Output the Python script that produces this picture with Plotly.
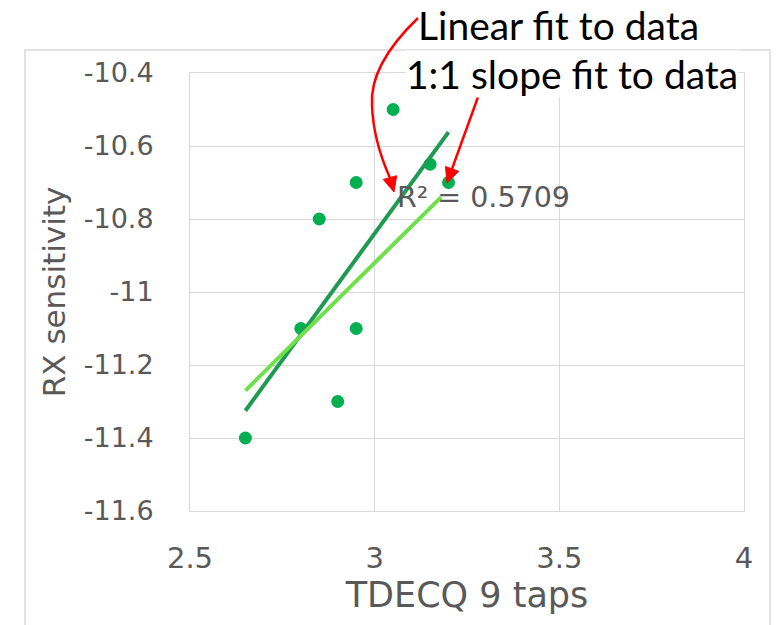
import numpy as np
import plotly.graph_objects as go

# ---- data ----
tdecq = [2.65, 2.80, 2.85, 2.90, 2.95, 2.95, 3.05, 3.15, 3.20]
rx_sens = [-11.40, -11.10, -10.80, -11.30, -10.70, -11.10, -10.50, -10.65, -10.70]
one_to_one_intercept = -13.92          # intercept of the 1:1 slope fit
one_to_one_x = [2.65, 3.18]            # extent of the 1:1 line
x_ticks = [2.5, 3, 3.5, 4]
x_tick_labels = ["2.5", "3", "3.5", "4"]
y_ticks = [-10.4, -10.6, -10.8, -11, -11.2, -11.4, -11.6]
y_tick_labels = ["-10.4", "-10.6", "-10.8", "-11", "-11.2", "-11.4", "-11.6"]
r2_label = "R² = 0.5709"

W, H = 783, 625
L, R, T, B = 190, 744, 73, 511  # plot area in pixels


def px(x):
    return (x - L) / (R - L)


def py(y):
    return (B - y) / (B - T)


slope, icpt = np.polyfit(tdecq, rx_sens, 1)
lin_x = np.array([min(tdecq), max(tdecq)])
lin_y = slope * lin_x + icpt
oto_x = np.array(one_to_one_x)
oto_y = oto_x + one_to_one_intercept

fig = go.Figure()
fig.add_trace(go.Scatter(x=tdecq, y=rx_sens, mode="markers",
                         marker=dict(color="#00B050", size=13), showlegend=False))
fig.add_trace(go.Scatter(x=lin_x, y=lin_y, mode="lines",
                         line=dict(color="#1F9A52", width=4), showlegend=False))
fig.add_trace(go.Scatter(x=oto_x, y=oto_y, mode="lines",
                         line=dict(color="#6EE04A", width=4), showlegend=False))

grey = "#595959"
grid = "#d9d9d9"
tickfam = "DejaVu Sans"
fig.update_layout(
    width=W, height=H,
    margin=dict(l=L, r=W - R, t=T, b=H - B),
    paper_bgcolor="white", plot_bgcolor="white",
    font=dict(family=tickfam, color=grey),
    xaxis=dict(range=[2.5, 4], tickvals=x_ticks, ticktext=x_tick_labels,
               showgrid=True, gridcolor=grid, gridwidth=1, zeroline=False,
               showline=True, linecolor=grid, mirror=True,
               ticks="outside", ticklen=21, tickcolor="rgba(0,0,0,0)",
               tickfont=dict(family=tickfam, size=29, color=grey),
               title=dict(text="TDECQ 9 taps", font=dict(family=tickfam, size=35, color=grey), standoff=4)),
    yaxis=dict(range=[-11.6, -10.4], tickvals=y_ticks, ticktext=y_tick_labels,
               showgrid=True, gridcolor=grid, gridwidth=1, zeroline=False,
               showline=True, linecolor=grid, mirror=True,
               ticks="outside", ticklen=30, tickcolor="rgba(0,0,0,0)",
               tickfont=dict(family=tickfam, size=27, color=grey),
               title=dict(text="RX sensitivity", font=dict(family=tickfam, size=31, color=grey), standoff=8)),
)

# outer chart border
fig.add_shape(type="rect", xref="paper", yref="paper",
              x0=px(25), x1=px(770), y0=py(640), y1=py(50),
              line=dict(color="#d9d9d9", width=1.5), layer="below")

# R² label
fig.add_annotation(xref="paper", yref="paper", x=px(395), y=py(197),
                   xanchor="left", yanchor="middle", showarrow=False,
                   text=r2_label, font=dict(family=tickfam, size=28.5, color=grey))

# callout texts
fig.add_annotation(xref="paper", yref="paper", x=px(416), y=py(25),
                   xanchor="left", yanchor="middle", showarrow=False,
                   text="Linear fit to data", font=dict(family="Lato", size=39, color="black"))
fig.add_annotation(xref="paper", yref="paper", x=px(405), y=py(74),
                   xanchor="left", yanchor="middle", showarrow=False, bgcolor="white",
                   borderpad=0,
                   text="1:1 slope fit to data", font=dict(family="Lato", size=39, color="black"))

red = "#FF0000"


def P(x, y):
    return f"{px(x):.5f},{py(y):.5f}"


# curved arrow to linear fit
curve = (f"M {P(418,18)} C {P(390,45)} {P(370,75)} {P(372,105)} "
         f"C {P(373,135)} {P(382,160)} {P(390,178)}")
fig.add_shape(type="path", xref="paper", yref="paper", path=curve,
              line=dict(color=red, width=2.5))
head1 = f"M {P(394,192)} L {P(396.7,175.7)} L {P(383.3,179.5)} Z"
fig.add_shape(type="path", xref="paper", yref="paper", path=head1,
              line=dict(color=red, width=1), fillcolor=red)

# straight arrow to 1:1 fit
line2 = f"M {P(478,97)} L {P(452,169)}"
fig.add_shape(type="path", xref="paper", yref="paper", path=line2,
              line=dict(color=red, width=2.5))
head2 = f"M {P(447,183)} L {P(458.7,171.3)} L {P(445.5,166.5)} Z"
fig.add_shape(type="path", xref="paper", yref="paper", path=head2,
              line=dict(color=red, width=1), fillcolor=red)

fig.write_html("out.html", config={"displayModeBar": False},
               post_script="document.body.style.margin='0';document.body.style.overflow='hidden';")
